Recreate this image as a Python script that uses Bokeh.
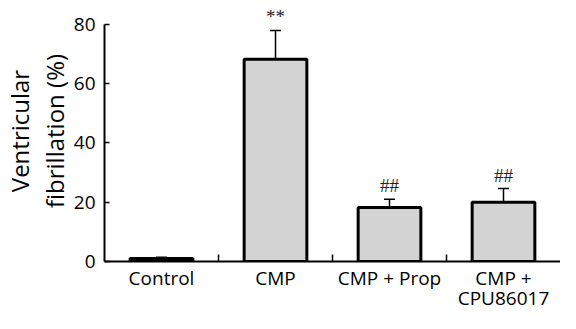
from bokeh.plotting import figure
from bokeh.models import (Range1d, FixedTicker, ColumnDataSource, Whisker, TeeHead, LabelSet,
                          Title)
from bokeh.embed import file_html
from bokeh.resources import INLINE

categories = ["Control", "CMP", "CMP + Prop", "CMP +\nCPU86017"]
values = [1.0, 68.2, 18.2, 20.0]
errors = [0.4, 9.7, 2.8, 4.6]
marks = ["", "**", "##", "##"]
y_ticks = [0, 20, 40, 60, 80]
y_title_lines = ["Ventricular", "fibrillation (%)"]

idx = list(range(len(categories)))
src = ColumnDataSource(dict(
    x=idx,
    top=values,
    upper=[v + e for v, e in zip(values, errors)],
    mark=marks,
))

p = figure(width=560, height=313, output_backend="svg", toolbar_location=None,
           x_range=Range1d(-0.5, len(categories) - 0.5), y_range=Range1d(0, 88.0),
           min_border_left=96, min_border_right=0, min_border_top=0, min_border_bottom=46)
p.outline_line_color = None
p.grid.grid_line_color = None
p.background_fill_color = "white"
p.border_fill_color = "white"

p.vbar(x="x", top="top", width=0.55, source=src, fill_color="#d3d3d3",
       line_color="black", line_width=3)

w = Whisker(base="x", lower="top", upper="upper", source=src, dimension="height",
            line_color="black", line_width=1.5,
            upper_head=TeeHead(size=11, line_color="black", line_width=1.5),
            lower_head=None)
p.add_layout(w)

lbl = LabelSet(x="x", y="upper", text="mark", source=src, text_align="center",
               text_baseline="bottom", y_offset=3, text_font="Liberation Serif",
               text_font_size="19px", text_color="#222222")
p.add_layout(lbl)

# x axis
xa = p.xaxis[0]
xa.ticker = FixedTicker(ticks=idx, minor_ticks=[i + 0.5 for i in idx[:-1]])
xa.major_label_overrides = {i: c for i, c in zip(idx, categories)}
xa.major_tick_in = 0
xa.major_tick_out = 0
xa.minor_tick_in = 7
xa.minor_tick_out = 0
xa.minor_tick_line_color = "black"
xa.minor_tick_line_width = 1.5
xa.axis_line_width = 2
xa.axis_line_color = "black"
xa.major_label_text_font = "Open Sans"
xa.major_label_text_font_size = "19px"
xa.major_label_text_color = "black"
xa.major_label_text_line_height = 0.77
xa.major_label_standoff = 3

# y axis
ya = p.yaxis[0]
ya.ticker = FixedTicker(ticks=y_ticks)
ya.bounds = (0, 80)
ya.major_tick_in = 5
ya.major_tick_out = 0
ya.major_tick_line_width = 1.5
ya.major_tick_line_color = "black"
ya.minor_tick_line_color = None
ya.axis_line_width = 2
ya.axis_line_color = "black"
ya.major_label_text_font = "Open Sans"
ya.major_label_text_font_size = "19px"
ya.major_label_text_color = "black"
ya.major_label_standoff = 9

# two-line y title: inner line first, outer line second, each centred
for line in reversed(y_title_lines):
    p.add_layout(Title(text=line, align="center", offset=-16, standoff=0,
                       text_font="Open Sans", text_font_size="24px",
                       text_font_style="normal", text_color="black"), "left")

open("out.html", "w").write(file_html(p, INLINE))
